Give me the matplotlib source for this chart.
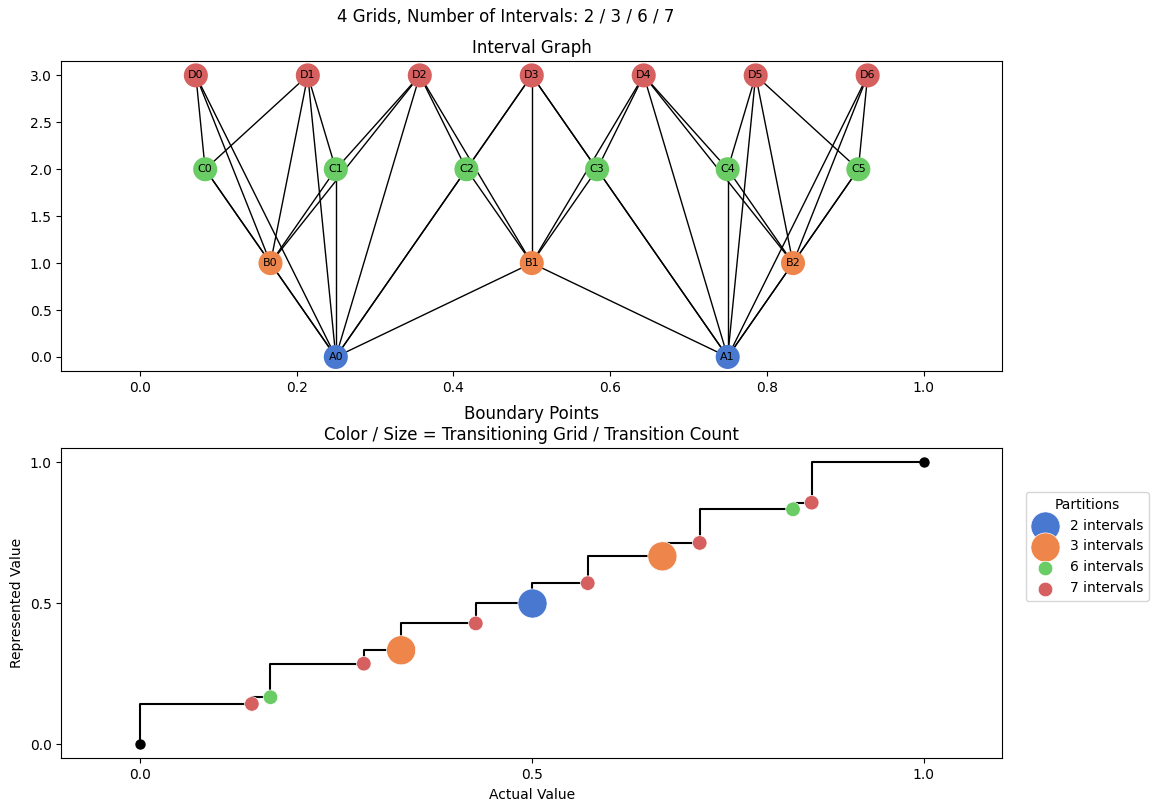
import matplotlib
matplotlib.use('Agg')
from matplotlib import pyplot as plt

# grids: name, number of intervals, row in the graph, colour
grid_names = ['A', 'B', 'C', 'D']
interval_counts = [2, 3, 6, 7]
grid_rows = [0, 1, 2, 3]
grid_colors = ['#4878d0', '#ee854a', '#6acc64', '#d65f5f']

# boundary points between 0 and 1 (bottom panel)
boundary_x = [1/7, 1/6, 2/7, 1/3, 3/7, 1/2, 4/7, 2/3, 5/7, 5/6, 6/7]
boundary_grid = [7, 6, 7, 3, 7, 2, 7, 3, 7, 6, 7]
transition_count = [1, 1, 1, 2, 1, 2, 1, 2, 1, 1, 1]

fig = plt.figure(figsize=(11.58, 8.11), dpi=100)
ax1 = fig.add_axes([0.0531, 0.5425, 0.8122, 0.3819])
ax2 = fig.add_axes([0.0531, 0.065, 0.8122, 0.3822])

fig.suptitle('4 Grids, Number of Intervals: 2 / 3 / 6 / 7', x=0.437, y=0.99, fontsize=12)

# --- interval graph ---
nodes = []
for name, n, row, color in zip(grid_names, interval_counts, grid_rows, grid_colors):
    for i in range(n):
        lo, hi = i / n, (i + 1) / n
        nodes.append((name + str(i), lo, hi, (lo + hi) / 2, row, color))

for a in range(len(nodes)):
    for b in range(a + 1, len(nodes)):
        na, nb = nodes[a], nodes[b]
        if na[4] == nb[4]:
            continue
        if min(na[2], nb[2]) - max(na[1], nb[1]) > 1e-9:
            ax1.plot([na[3], nb[3]], [na[4], nb[4]], color='black', lw=1, zorder=1)

ax1.scatter([nd[3] for nd in nodes], [nd[4] for nd in nodes], s=300,
            c=[nd[5] for nd in nodes], zorder=2, linewidths=0)
for nd in nodes:
    ax1.text(nd[3], nd[4], nd[0], fontsize=8, ha='center', va='center', zorder=3)

ax1.set_xlim(-0.1, 1.1)
ax1.set_ylim(-0.15, 3.15)
ax1.set_title('Interval Graph', fontsize=12)

# --- boundary points ---
xs = [0.0] + boundary_x + [1.0]
ax2.step(xs, xs, where='pre', color='black', lw=1.5, zorder=1)
ax2.scatter([0.0, 1.0], [0.0, 1.0], s=42, color='black', zorder=2)

for n, color in zip(interval_counts, grid_colors):
    px = [x for x, g in zip(boundary_x, boundary_grid) if g == n]
    sz = [110 * c ** 2 for c, g in zip(transition_count, boundary_grid) if g == n]
    ax2.scatter(px, px, s=sz, color=color, edgecolors='white', linewidths=0.5,
                zorder=3, label='%d intervals' % n)

ax2.set_xlim(-0.1, 1.1)
ax2.set_ylim(-0.05, 1.05)
ax2.set_xticks([0, 0.5, 1.0])
ax2.set_yticks([0, 0.5, 1.0])
ax2.set_xlabel('Actual Value')
ax2.set_ylabel('Represented Value')
ax2.set_title('Boundary Points\nColor / Size = Transitioning Grid / Transition Count', fontsize=12)
ax2.legend(title='Partitions', loc='upper left', bbox_to_anchor=(1.025, 0.859),
           borderaxespad=0)

fig.savefig('out.png', dpi=100)
